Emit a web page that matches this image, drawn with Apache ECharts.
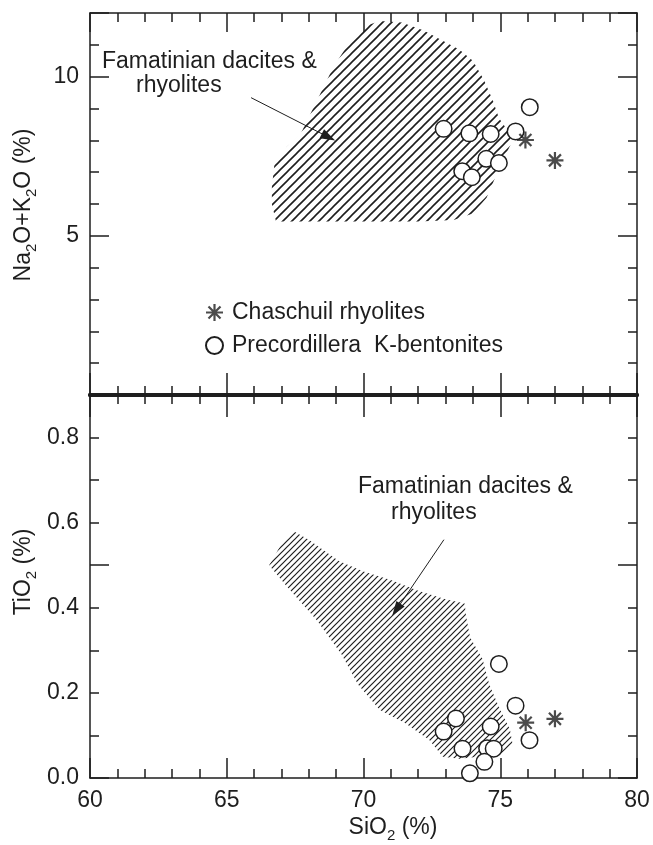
<!DOCTYPE html>
<html>
<head>
<meta charset="utf-8">
<title>SiO2 vs Na2O+K2O and TiO2</title>
<script src="https://cdn.jsdelivr.net/npm/echarts@6/dist/echarts.min.js"></script>
<style>
html, body { margin: 0; padding: 0; background: #fff; }
#chart { width: 653px; height: 845px; }
</style>
</head>
<body>
<div id="chart"></div>
<script>
// SiO2 on x for both panels
const xTicks = [60, 65, 70, 75, 80];

// top panel: Na2O+K2O (%)
const alkTickLabels = [5, 10];
const alkBentonites = [[72.93, 8.36], [73.87, 8.22], [74.65, 8.20], [75.56, 8.28], [76.08, 9.04],
  [74.49, 7.42], [74.95, 7.29], [73.61, 7.03], [73.96, 6.84]];
const alkChaschuil = [[75.92, 8.01], [77.0, 7.37]];
const alkFamatinian = [[70.6, 11.75], [71.4, 11.7], [72.2, 11.45], [72.9, 11.13], [73.5, 10.85], [74.0, 10.5],
  [74.4, 9.9], [74.73, 9.25], [74.95, 8.7], [75.36, 8.2], [75.4, 7.9], [75.0, 7.2], [74.75, 6.7], [74.5, 6.2],
  [74.0, 5.7], [73.3, 5.5], [72.0, 5.45], [70.0, 5.45], [68.0, 5.45], [66.8, 5.45], [66.65, 6.0], [66.65, 6.53],
  [66.75, 7.3], [67.2, 7.8], [67.7, 8.2], [68.3, 9.25], [68.9, 10.3], [69.5, 11.1], [70.1, 11.6]];
const alkArrow = [[65.89, 9.34], [68.72, 8.1]];

// bottom panel: TiO2 (%)
const tiTickLabels = [0, 0.2, 0.4, 0.6, 0.8];
const tiBentonites = [[74.95, 0.268], [75.56, 0.170], [73.38, 0.140], [72.93, 0.109], [74.65, 0.121],
  [73.62, 0.069], [74.52, 0.070], [74.76, 0.069], [74.42, 0.038], [73.89, 0.011], [76.07, 0.089]];
const tiChaschuil = [[75.93, 0.130], [77.0, 0.139]];
const tiFamatinian = [[66.55, 0.50], [67.0, 0.55], [67.45, 0.58], [68.0, 0.56], [69.1, 0.51], [70.0, 0.485],
  [71.0, 0.465], [72.0, 0.44], [73.0, 0.42], [73.7, 0.41], [73.75, 0.38], [73.9, 0.33], [74.35, 0.28],
  [74.6, 0.22], [75.0, 0.16], [75.35, 0.115], [75.45, 0.08], [75.0, 0.055], [74.2, 0.05], [73.5, 0.045],
  [72.9, 0.05], [72.4, 0.09], [71.5, 0.13], [70.6, 0.16], [69.8, 0.22], [69.2, 0.29], [68.3, 0.37], [67.2, 0.45]];
const tiArrow = [[72.94, 0.56], [71.2, 0.395]];

const ink = '#1e1e1e';
const font = '"Liberation Sans", Arial, sans-serif';
// eight-armed asterisk, arms as thin bars
const starPath = 'path://M-10,-1.3L10,-1.3L10,1.3L-10,1.3Z M-1.3,-10L1.3,-10L1.3,10L-1.3,10Z ' +
  'M-6.15,-7.99L7.99,6.15L6.15,7.99L-7.99,-6.15Z M-7.99,6.15L6.15,-7.99L7.99,-6.15L-6.15,7.99Z';
const arrowHead = 'path://M0,0L4,12L-4,12Z';

// diagonal hatch tile
function hatchTile(step, lw) {
  const c = document.createElement('canvas');
  c.width = c.height = step;
  const g = c.getContext('2d');
  g.strokeStyle = ink;
  g.lineWidth = lw;
  g.beginPath();
  g.moveTo(0, step); g.lineTo(step, 0);
  g.moveTo(-step / 2, step / 2); g.lineTo(step / 2, -step / 2);
  g.moveTo(step / 2, step * 1.5); g.lineTo(step * 1.5, step / 2);
  g.stroke();
  return c;
}

function axis(grid, position, min, max, interval, tickLen, opt) {
  opt = opt || {};
  return {
    type: 'value', gridIndex: grid, position: position, min: min, max: max, interval: interval,
    axisLine: { show: !!opt.line, onZero: false, lineStyle: { color: ink, width: opt.line || 1.5 } },
    axisTick: { show: true, inside: true, length: tickLen, lineStyle: { color: ink, width: 1.5 } },
    axisLabel: opt.label ? Object.assign({ show: true, color: ink, fontSize: 23, fontFamily: font, margin: 11 }, opt.label) : { show: false },
    splitLine: { show: false }
  };
}

function hatchSeries(poly, xi, yi, step, lw) {
  const tile = hatchTile(step, lw);
  return {
    type: 'custom', xAxisIndex: xi, yAxisIndex: yi, silent: true, z: 1,
    data: [poly[0]],
    renderItem: function (params, api) {
      return {
        type: 'polygon',
        shape: { points: poly.map(function (p) { return api.coord(p); }) },
        style: { fill: { image: tile, repeat: 'repeat' } }
      };
    }
  };
}

function arrowSeries(pts, xi, yi) {
  return {
    type: 'scatter', name: 'arrow' + xi, xAxisIndex: xi, yAxisIndex: yi, data: [],
    markLine: {
      silent: true, animation: false, symbol: ['none', arrowHead], symbolSize: [10, 15],
      label: { show: false },
      lineStyle: { color: ink, width: 1, type: 'solid' },
      data: [[{ coord: pts[0] }, { coord: pts[1] }]]
    }
  };
}

function pointSeries(name, data, xi, yi) {
  const star = name === 'Chaschuil rhyolites';
  return {
    type: 'scatter', name: name, xAxisIndex: xi, yAxisIndex: yi, data: data,
    symbol: star ? starPath : 'circle',
    symbolSize: star ? 17 : 16.5,
    z: star ? 4 : 3,
    itemStyle: star ? { color: ink } : { color: '#fff', borderColor: ink, borderWidth: 1.5, opacity: 1 }
  };
}

const chart = echarts.init(document.getElementById('chart'));
chart.setOption({
  animation: false,
  grid: [
    { left: 90, right: 16, top: 13, height: 382 },
    { left: 90, right: 16, top: 395, height: 383 }
  ],
  xAxis: [
    axis(0, 'bottom', 60, 80, 1, 9, { line: 4 }),
    axis(0, 'bottom', 60, 80, 5, 22),
    axis(0, 'top', 60, 80, 1, 9, { line: 1.5 }),
    axis(0, 'top', 60, 80, 5, 19),
    axis(1, 'bottom', 60, 80, 1, 9, { line: 1.5 }),
    axis(1, 'bottom', 60, 80, 5, 20, { label: { formatter: function (v) { return xTicks.indexOf(v) >= 0 ? String(v) : ''; } } }),
    axis(1, 'top', 60, 80, 1, 9, { line: 4 }),
    axis(1, 'top', 60, 80, 5, 22)
  ],
  yAxis: [
    axis(0, 'left', 0, 12, 1, 9, { line: 1.5 }),
    axis(0, 'left', 0, 12, 5, 19, { label: { formatter: function (v) { return alkTickLabels.indexOf(v) >= 0 ? String(v) : ''; } } }),
    axis(0, 'right', 0, 12, 1, 9, { line: 1.5 }),
    axis(0, 'right', 0, 12, 5, 19),
    axis(1, 'left', 0, 0.9, 0.1, 9, { line: 1.5, label: { formatter: function (v) {
      const r = Math.round(v * 10) / 10;
      return tiTickLabels.indexOf(r) >= 0 ? r.toFixed(1) : '';
    } } }),
    axis(1, 'left', 0, 0.9, 0.5, 19),
    axis(1, 'right', 0, 0.9, 0.1, 9, { line: 1.5 }),
    axis(1, 'right', 0, 0.9, 0.5, 19)
  ],
  legend: {
    data: ['Chaschuil rhyolites', 'Precordillera  K-bentonites'],
    orient: 'vertical', left: 200, top: 296, itemWidth: 17, itemHeight: 17, itemGap: 10,
    selectedMode: false,
    textStyle: { fontSize: 23, color: ink, fontFamily: font, padding: [0, 0, 0, 4] }
  },
  series: [
    hatchSeries(alkFamatinian, 0, 0, 9, 1.6),
    arrowSeries(alkArrow, 0, 0),
    pointSeries('Precordillera  K-bentonites', alkBentonites, 0, 0),
    pointSeries('Chaschuil rhyolites', alkChaschuil, 0, 0),
    hatchSeries(tiFamatinian, 4, 4, 6, 1.2),
    arrowSeries(tiArrow, 4, 4),
    pointSeries('Precordillera  K-bentonites', tiBentonites, 4, 4),
    pointSeries('Chaschuil rhyolites', tiChaschuil, 4, 4)
  ],
  graphic: [
    { type: 'text', x: 102, y: 62, style: { text: 'Famatinian dacites &', fontSize: 23, fontFamily: font, fill: ink, verticalAlign: 'middle' } },
    { type: 'text', x: 136, y: 86, style: { text: 'rhyolites', fontSize: 23, fontFamily: font, fill: ink, verticalAlign: 'middle' } },
    { type: 'text', x: 358, y: 487, style: { text: 'Famatinian dacites &', fontSize: 23, fontFamily: font, fill: ink, verticalAlign: 'middle' } },
    { type: 'text', x: 391, y: 513, style: { text: 'rhyolites', fontSize: 23, fontFamily: font, fill: ink, verticalAlign: 'middle' } },
    {
      type: 'text', x: 24, y: 205, rotation: Math.PI / 2,
      style: {
        text: '{t|Na}{s|2}{t|O+K}{s|2}{t|O (%)}', align: 'center', verticalAlign: 'middle',
        rich: {
          t: { fontSize: 23, fontFamily: font, fill: ink, lineHeight: 24, verticalAlign: 'middle' },
          s: { fontSize: 15, fontFamily: font, fill: ink, lineHeight: 30, verticalAlign: 'bottom' }
        }
      }
    },
    {
      type: 'text', x: 24, y: 572, rotation: Math.PI / 2,
      style: {
        text: '{t|TiO}{s|2}{t| (%)}', align: 'center', verticalAlign: 'middle',
        rich: {
          t: { fontSize: 23, fontFamily: font, fill: ink, lineHeight: 24, verticalAlign: 'middle' },
          s: { fontSize: 15, fontFamily: font, fill: ink, lineHeight: 30, verticalAlign: 'bottom' }
        }
      }
    },
    {
      type: 'text', x: 393, y: 828,
      style: {
        text: '{t|SiO}{s|2}{t| (%)}', align: 'center', verticalAlign: 'middle',
        rich: {
          t: { fontSize: 23, fontFamily: font, fill: ink, lineHeight: 24, verticalAlign: 'middle' },
          s: { fontSize: 15, fontFamily: font, fill: ink, lineHeight: 30, verticalAlign: 'bottom' }
        }
      }
    }
  ]
});
</script>
</body>
</html>
